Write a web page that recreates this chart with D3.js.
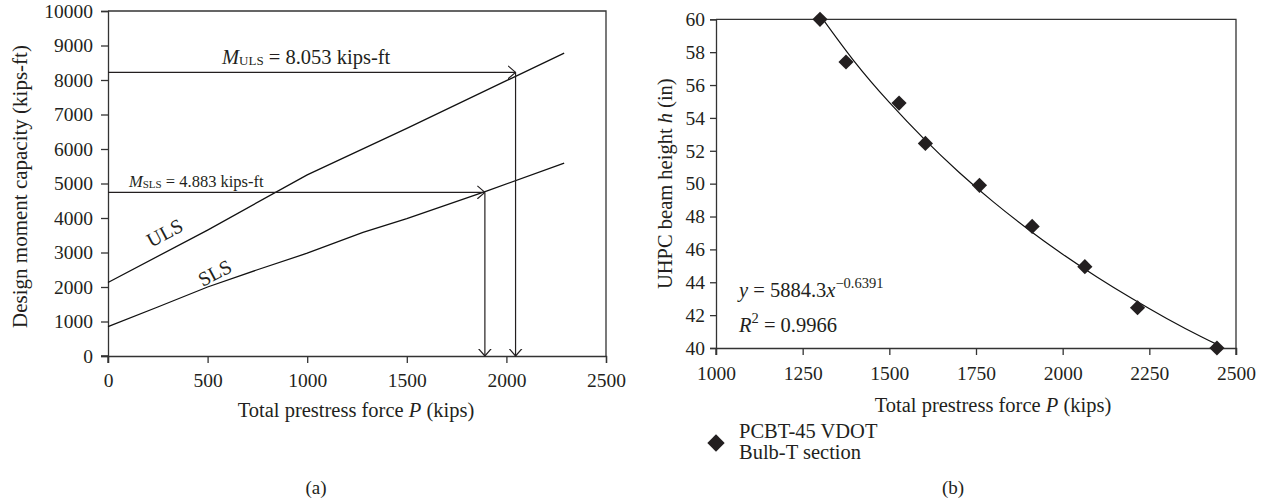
<!DOCTYPE html>
<html>
<head>
<meta charset="utf-8">
<script src="https://cdn.jsdelivr.net/npm/d3@7"></script>
<style>
  body { margin: 0; background: #fff; }
  svg { display: block; font-family: "Liberation Serif", "DejaVu Serif", serif; }
  .axis path, .axis line { stroke: #333; stroke-width: 1.3; }
  .axis text { font-family: "Liberation Serif", serif; font-size: 19.5px; fill: #231f20; }
</style>
</head>
<body>
<svg id="chart" width="1272" height="503"></svg>
<script>
// ---- panel (a): design moment capacity vs prestress force
const ulsP = [0, 500, 1000, 1500, 2000, 2290];
const ulsM = [2130, 3650, 5250, 6600, 7980, 8780];
const slsP = [0, 250, 500, 750, 1000, 1280, 1500, 1900, 2290];
const slsM = [850, 1420, 2000, 2500, 2980, 3580, 3980, 4780, 5590];
const ulsArrow = { p: 2046, m: 8222 };
const slsArrow = { p: 1892, m: 4744 };
const ticksA_x = [0, 500, 1000, 1500, 2000, 2500];
const ticksA_y = [0, 1000, 2000, 3000, 4000, 5000, 6000, 7000, 8000, 9000, 10000];

// ---- panel (b): beam height vs prestress force
const beamP = [1300, 1375, 1528, 1604, 1760, 1912, 2064, 2216, 2445];
const beamH = [60, 57.4, 54.9, 52.45, 49.9, 47.4, 44.95, 42.45, 40];
// power trend line (y = 5884.3 x^-0.6391)
const trendP = [1300, 1400, 1500, 1600, 1700, 1800, 1900, 2000, 2100, 2200, 2300, 2400, 2445];
const trendH = [60.25, 57.41, 54.94, 52.72, 50.71, 48.89, 47.23, 45.71, 44.31, 43.01, 41.80, 40.68, 40.22];
const ticksB_x = [1000, 1250, 1500, 1750, 2000, 2250, 2500];
const ticksB_y = [40, 42, 44, 46, 48, 50, 52, 54, 56, 58, 60];

const ink = '#231f20';
const fmt = d3.format('d');
const svg = d3.select('#chart');

// ================= panel (a)
const xA = d3.scaleLinear().domain([0, 2500]).range([108, 606]);
const yA = d3.scaleLinear().domain([0, 10000]).range([356, 11]);

const defs = svg.append('defs');
defs.append('marker')
  .attr('id', 'openArrow')
  .attr('viewBox', '0 -7 8 14')
  .attr('refX', 7.5).attr('refY', 0)
  .attr('markerUnits', 'userSpaceOnUse')
  .attr('markerWidth', 8).attr('markerHeight', 14)
  .attr('orient', 'auto')
  .append('path')
  .attr('d', 'M0,-6.5L7.5,0L0,6.5')
  .attr('fill', 'none').attr('stroke', ink).attr('stroke-width', 1.2);

const gA = svg.append('g');

// frame top/right
gA.append('path')
  .attr('d', `M${xA(0)},${yA(10000)}H${xA(2500)}V${yA(0)}`)
  .attr('fill', 'none').attr('stroke', '#333').attr('stroke-width', 1.3);

gA.append('g').attr('class', 'axis')
  .attr('transform', `translate(0,${yA(0)})`)
  .call(d3.axisBottom(xA).tickValues(ticksA_x).tickFormat(fmt).tickSizeOuter(0).tickSize(7).tickPadding(10));
gA.append('g').attr('class', 'axis')
  .attr('transform', `translate(${xA(0)},0)`)
  .call(d3.axisLeft(yA).tickValues(ticksA_y).tickFormat(fmt).tickSizeOuter(0).tickSize(7).tickPadding(8));
// extend axis lines past the origin like the original
gA.append('path')
  .attr('d', `M${xA(0) - 7},${yA(0)}H${xA(0)}V${yA(0) + 7}`)
  .attr('stroke', '#333').attr('stroke-width', 1.3).attr('fill', 'none');

const lineA = d3.line().x(d => xA(d[0])).y(d => yA(d[1]));
gA.append('path')
  .datum(d3.zip(ulsP, ulsM))
  .attr('d', lineA).attr('fill', 'none').attr('stroke', '#111').attr('stroke-width', 1.3);
gA.append('path')
  .datum(d3.zip(slsP, slsM))
  .attr('d', lineA).attr('fill', 'none').attr('stroke', '#111').attr('stroke-width', 1.3);

// arrows
[ulsArrow, slsArrow].forEach(a => {
  gA.append('path')
    .attr('d', `M${xA(0)},${yA(a.m)}H${xA(a.p)}`)
    .attr('stroke', ink).attr('stroke-width', 1.2).attr('marker-end', 'url(#openArrow)');
  gA.append('path')
    .attr('d', `M${xA(a.p)},${yA(a.m)}V${yA(0)}`)
    .attr('stroke', ink).attr('stroke-width', 1.2).attr('marker-end', 'url(#openArrow)');
});

// annotation texts
const tU = gA.append('text').attr('x', 222).attr('y', 64)
  .attr('font-size', 20.5).attr('fill', ink);
tU.append('tspan').attr('font-style', 'italic').text('M');
tU.append('tspan').attr('font-size', 13).attr('dy', 1).text('ULS');
tU.append('tspan').attr('dy', -1).text(' = 8.053 kips-ft');

const tS = gA.append('text').attr('x', 129).attr('y', 187)
  .attr('font-size', 16.5).attr('fill', ink);
tS.append('tspan').attr('font-style', 'italic').text('M');
tS.append('tspan').attr('font-size', 11).attr('dy', 1).text('SLS');
tS.append('tspan').attr('dy', -1).text(' = 4.883 kips-ft');

gA.append('text')
  .attr('transform', 'translate(168,239) rotate(-28)')
  .attr('text-anchor', 'middle').attr('font-size', 20).attr('fill', ink).text('ULS');
gA.append('text')
  .attr('transform', 'translate(218,279) rotate(-28)')
  .attr('text-anchor', 'middle').attr('font-size', 20).attr('fill', ink).text('SLS');

// axis titles
gA.append('text')
  .attr('transform', `translate(27,${(yA(0) + yA(10000)) / 2 + 3}) rotate(-90)`)
  .attr('text-anchor', 'middle').attr('font-size', 21).attr('fill', ink)
  .text('Design moment capacity (kips-ft)');
const xtA = gA.append('text').attr('x', 356).attr('y', 417)
  .attr('text-anchor', 'middle').attr('font-size', 20.5).attr('fill', ink);
xtA.append('tspan').text('Total prestress force ');
xtA.append('tspan').attr('font-style', 'italic').text('P');
xtA.append('tspan').text(' (kips)');

svg.append('text').attr('x', 316).attr('y', 494)
  .attr('text-anchor', 'middle').attr('font-size', 19).attr('fill', ink).text('(a)');

// ================= panel (b)
const xB = d3.scaleLinear().domain([1000, 2500]).range([716, 1236]);
const yB = d3.scaleLinear().domain([40, 60]).range([348, 19.3]);
const gB = svg.append('g');

gB.append('path')
  .attr('d', `M${xB(1000)},${yB(60)}H${xB(2500)}V${yB(40) + 7}`)
  .attr('fill', 'none').attr('stroke', '#333').attr('stroke-width', 1.3);
gB.append('g').attr('class', 'axis')
  .attr('transform', `translate(0,${yB(40)})`)
  .call(d3.axisBottom(xB).tickValues(ticksB_x).tickFormat(fmt).tickSizeOuter(0).tickSize(7).tickPadding(11));
gB.append('g').attr('class', 'axis')
  .attr('transform', `translate(${xB(1000)},0)`)
  .call(d3.axisLeft(yB).tickValues(ticksB_y).tickFormat(fmt).tickSizeOuter(0).tickSize(6).tickPadding(5));
gB.append('path')
  .attr('d', `M${xB(1000)},${yB(40)}V${yB(40) + 7}`)
  .attr('stroke', '#333').attr('stroke-width', 1.3);

gB.append('clipPath').attr('id', 'clipB').append('rect')
  .attr('x', xB(1000)).attr('y', yB(60))
  .attr('width', xB(2500) - xB(1000)).attr('height', yB(40) - yB(60));

gB.append('path')
  .datum(d3.zip(trendP, trendH))
  .attr('clip-path', 'url(#clipB)')
  .attr('d', d3.line().x(d => xB(d[0])).y(d => yB(d[1])).curve(d3.curveNatural))
  .attr('fill', 'none').attr('stroke', '#111').attr('stroke-width', 1.2);

const diamond = d3.symbol().type(d3.symbolSquare).size(115);
gB.selectAll('.pt')
  .data(d3.zip(beamP, beamH))
  .join('path')
  .attr('class', 'pt')
  .attr('d', diamond)
  .attr('transform', d => `translate(${xB(d[0])},${yB(d[1])}) rotate(45)`)
  .attr('fill', ink);

// equation
const eq1 = gB.append('text').attr('x', 739).attr('y', 297)
  .attr('font-size', 20.5).attr('fill', ink);
eq1.append('tspan').attr('font-style', 'italic').text('y');
eq1.append('tspan').text(' = 5884.3');
eq1.append('tspan').attr('font-style', 'italic').text('x');
eq1.append('tspan').attr('font-size', 14.5).attr('dy', -9).text('\u22120.6391');
const eq2 = gB.append('text').attr('x', 739).attr('y', 332)
  .attr('font-size', 20.5).attr('fill', ink);
eq2.append('tspan').attr('font-style', 'italic').text('R');
eq2.append('tspan').attr('font-size', 14.5).attr('dy', -9).text('2');
eq2.append('tspan').attr('dy', 9).text(' = 0.9966');

gB.append('text')
  .attr('transform', `translate(672,${(yB(40) + yB(60)) / 2}) rotate(-90)`)
  .attr('text-anchor', 'middle').attr('font-size', 20.5).attr('fill', ink)
  .call(t => {
    t.append('tspan').text('UHPC beam height ');
    t.append('tspan').attr('font-style', 'italic').text('h');
    t.append('tspan').text(' (in)');
  });
const xtB = gB.append('text').attr('x', 993).attr('y', 412)
  .attr('text-anchor', 'middle').attr('font-size', 20.5).attr('fill', ink);
xtB.append('tspan').text('Total prestress force ');
xtB.append('tspan').attr('font-style', 'italic').text('P');
xtB.append('tspan').text(' (kips)');

// legend
gB.append('path')
  .attr('d', d3.symbol().type(d3.symbolSquare).size(150))
  .attr('transform', 'translate(716,443) rotate(45)')
  .attr('fill', ink);
gB.append('text').attr('x', 739).attr('y', 438)
  .attr('font-size', 20.5).attr('fill', ink).text('PCBT-45 VDOT');
gB.append('text').attr('x', 739).attr('y', 459)
  .attr('font-size', 20.5).attr('fill', ink).text('Bulb-T section');

svg.append('text').attr('x', 953).attr('y', 494)
  .attr('text-anchor', 'middle').attr('font-size', 19).attr('fill', ink).text('(b)');
</script>
</body>
</html>
